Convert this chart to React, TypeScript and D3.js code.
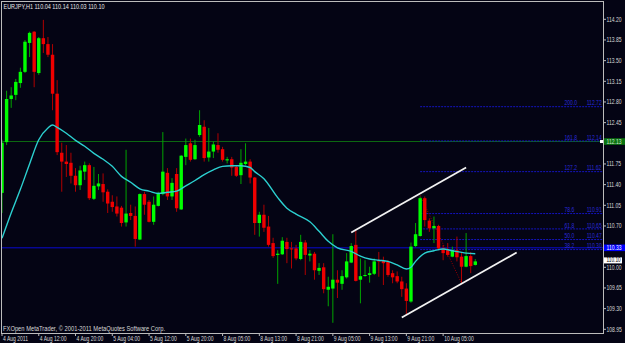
import React from "react";
import * as d3 from "d3";

const W = 625;
const H = 343;

// ---- data (EURJPY H1) ----
const opens = [
  111.26, 112.12, 112.85, 112.92, 113.12, 113.31, 113.80, 113.99, 113.29, 113.88,
  113.78, 113.60, 112.94, 111.94, 111.79, 111.77, 111.55, 111.39, 111.62, 111.73,
  111.16, 111.37, 111.41, 111.28, 111.11, 111.03, 111.01, 110.76, 110.92, 110.87,
  110.47, 111.24, 111.11, 110.77, 111.04, 111.24, 111.60, 111.20, 111.58, 110.98,
  111.87, 112.10, 111.83, 112.24, 112.38, 111.86, 111.96, 112.07, 112.00, 111.81,
  111.83, 111.70, 111.56, 111.75, 111.79, 111.52, 110.75, 110.89, 110.69, 110.41,
  110.21, 110.22, 110.43, 110.32, 110.32, 110.14, 110.42, 110.20, 110.23, 109.94,
  110.00, 109.62, 109.64, 109.79, 109.72, 109.83, 110.08, 110.38, 109.79, 109.86,
  109.87, 109.89, 110.12, 110.11, 110.09, 109.90, 109.85, 109.76, 109.64, 109.42,
  110.36, 110.53, 111.17, 110.79, 110.66, 110.70, 110.32, 110.29, 110.18, 110.29,
  110.18, 110.01, 110.19, 110.04,
];
const highs = [
  112.16, 112.99, 113.05, 113.19, 113.38, 113.85, 113.99, 114.00, 113.90, 114.19,
  113.90, 113.78, 113.17, 112.11, 112.07, 111.94, 111.68, 111.72, 111.79, 111.76,
  111.70, 111.58, 111.59, 111.32, 111.22, 111.20, 111.04, 111.99, 111.06, 111.03,
  111.25, 111.28, 111.14, 111.20, 111.28, 112.29, 111.68, 111.51, 111.68, 111.90,
  112.18, 112.18, 112.16, 112.66, 112.49, 112.36, 112.13, 112.27, 112.04, 111.87,
  111.87, 111.73, 112.00, 112.10, 111.83, 111.53, 110.94, 111.06, 110.87, 110.50,
  110.29, 110.51, 110.50, 110.43, 110.38, 110.55, 110.46, 110.29, 110.26, 110.07,
  110.07, 109.84, 110.56, 109.95, 109.95, 110.24, 110.41, 110.63, 110.15, 110.12,
  110.01, 110.15, 110.26, 110.18, 110.12, 109.95, 109.93, 109.84, 109.73, 110.42,
  110.75, 111.20, 111.20, 110.83, 110.86, 110.72, 110.38, 110.41, 110.35, 110.52,
  110.26, 110.58, 110.26, 110.14,
];
const lows = [
  110.92, 112.07, 112.70, 112.83, 113.04, 113.29, 113.56, 113.05, 113.26, 113.63,
  113.56, 112.66, 111.90, 111.28, 111.53, 111.42, 111.28, 111.31, 111.48, 111.14,
  111.14, 111.31, 111.11, 110.92, 110.94, 110.86, 110.69, 110.69, 110.80, 110.35,
  110.46, 110.89, 110.76, 110.72, 111.03, 111.22, 111.14, 111.14, 110.94, 110.97,
  111.73, 111.79, 111.82, 112.21, 111.79, 111.79, 111.85, 111.94, 111.79, 111.76,
  111.55, 111.53, 111.41, 111.73, 111.42, 110.55, 110.52, 110.60, 110.35, 110.16,
  109.72, 110.21, 110.07, 109.98, 110.12, 110.12, 109.87, 110.10, 109.79, 109.87,
  109.56, 109.34, 109.06, 109.48, 109.62, 109.81, 110.07, 109.76, 109.39, 109.84,
  109.74, 109.87, 109.84, 109.70, 109.84, 109.73, 109.73, 109.50, 109.19, 109.40,
  110.34, 110.52, 110.69, 110.60, 110.41, 110.29, 110.12, 110.18, 110.17, 110.10,
  109.73, 110.00, 109.90, 110.03,
];
const closes = [
  112.11, 112.85, 112.91, 113.14, 113.31, 113.82, 113.97, 113.31, 113.88, 113.78,
  113.60, 112.94, 111.95, 111.79, 111.75, 111.55, 111.39, 111.64, 111.73, 111.17,
  111.38, 111.42, 111.27, 111.08, 111.02, 110.91, 110.75, 110.91, 110.87, 110.48,
  111.24, 111.06, 110.77, 111.06, 111.25, 111.62, 111.20, 111.43, 111.00, 111.89,
  112.07, 111.82, 112.07, 112.41, 111.85, 111.96, 112.08, 111.99, 111.82, 111.83,
  111.69, 111.55, 111.77, 111.79, 111.52, 110.75, 110.89, 110.67, 110.38, 110.19,
  110.23, 110.45, 110.31, 110.31, 110.15, 110.43, 110.21, 110.23, 109.95, 109.99,
  109.63, 109.67, 109.79, 109.74, 109.85, 110.10, 110.36, 109.77, 109.85, 109.87,
  109.90, 110.10, 110.10, 110.07, 109.87, 109.83, 109.76, 109.63, 109.43, 110.35,
  110.56, 111.17, 110.80, 110.66, 110.70, 110.32, 110.24, 110.21, 110.29, 110.17,
  110.01, 110.19, 110.02, 110.10,
];

// moving average (cyan) read at sample bars
const maBars = [0, 2, 4, 6, 8, 10, 11, 12, 14, 16, 18, 20, 22, 24, 26, 28, 30, 32, 34, 36, 38, 40, 42, 44, 46, 48, 50, 52, 54, 55, 57, 60, 62, 64, 67, 69, 71, 73, 76, 78, 80, 82, 84, 86, 88, 89, 90, 92, 94, 96, 98, 101, 103];
const maValues = [110.49, 110.92, 111.32, 111.75, 112.16, 112.36, 112.41, 112.37, 112.27, 112.15, 112.05, 111.93, 111.83, 111.71, 111.54, 111.44, 111.33, 111.29, 111.25, 111.27, 111.29, 111.38, 111.47, 111.57, 111.65, 111.71, 111.72, 111.72, 111.69, 111.62, 111.50, 111.18, 111.00, 110.90, 110.77, 110.61, 110.44, 110.33, 110.27, 110.19, 110.14, 110.12, 110.10, 110.04, 109.97, 110.00, 110.10, 110.24, 110.28, 110.31, 110.28, 110.24, 110.23];

const timeLabels = ["4 Aug 2011", "4 Aug 12:00", "4 Aug 20:00", "5 Aug 04:00", "5 Aug 12:00", "5 Aug 20:00", "8 Aug 05:00", "8 Aug 13:00", "8 Aug 21:00", "9 Aug 05:00", "9 Aug 13:00", "9 Aug 21:00", "10 Aug 05:00"];
const timeLabelBars = [0, 8, 16, 24, 32, 40, 48, 56, 64, 72, 80, 88, 96];

const priceTicks = ["114.20", "113.85", "113.50", "113.15", "112.80", "112.45", "112.10", "111.75", "111.40", "111.05", "110.70", "110.35", "110.00", "109.65", "109.30", "108.95"];

const fibLevels = ["200.0", "161.8", "127.2", "78.6", "61.8", "50.0", "38.2"];
const fibPrices = ["112.72", "112.14", "111.62", "110.91", "110.65", "110.47", "110.30"];
const fibAnchorBars = [91, 100];
const fibAnchorPrices = [111.22, 109.73];

const upperChannelBars = [76, 101];
const upperChannelPrices = [110.59, 111.69];
const lowerChannelBars = [87, 112];
const lowerChannelPrices = [109.15, 110.25];

const greenLinePrice = 112.13;
const blueLinePrice = 110.33;
const lastPrice = 110.1;

const headerText = "EURJPY,H1  110.04 110.14 110.03 110.10";
const copyright = "FXOpen MetaTrader, \u00A9 2001-2011 MetaQuotes Software Corp.";

// ---- layout ----
const L = 2, R = 603, T = 2, B = 333;
const FONT = "'Liberation Sans', Arial, sans-serif";

function NText(props: { x: number; y: number; fill: string; size?: number; sx?: number; children: React.ReactNode }) {
  const { x, y, fill, size = 7, sx = 0.72, children } = props;
  return (
    <text transform={`translate(${x},${y}) scale(${sx},1)`} fill={fill} fontSize={size} fontFamily={FONT}>
      {children}
    </text>
  );
}

export default function App() {
  const x = d3.scaleLinear().domain([0, 103]).range([2, 475.3]);
  const y = d3.scaleLinear().domain([108.95, 114.2]).range([329.3, 19.3]);

  const ma = d3
    .line<number>()
    .x((_, i) => x(maBars[i]))
    .y((d) => y(d))
    .curve(d3.curveMonotoneX)(maValues) as string;

  const bodyW = 3.4;
  const coveredBy = [greenLinePrice, blueLinePrice];
  const visibleTicks = priceTicks.filter(
    (t) => !coveredBy.some((p) => Math.abs(y(+t) - y(p)) < 5)
  );
  const lastY = y(lastPrice) - 1;

  return (
    <svg width={W} height={H} style={{ position: "absolute", left: 0, top: 0, display: "block" }}>
      <defs>
        <clipPath id="plot">
          <rect x={L} y={T} width={R - L} height={B - T} />
        </clipPath>
      </defs>
      <rect x={0} y={0} width={W} height={H} fill="#040414" />

      <g clipPath="url(#plot)">
        {/* horizontal lines */}
        <line x1={L} x2={R} y1={y(greenLinePrice)} y2={y(greenLinePrice)} stroke="#0d6a12" strokeWidth={1} />
        <line x1={L} x2={R} y1={y(blueLinePrice)} y2={y(blueLinePrice)} stroke="#0a0ad0" strokeWidth={1} />

        {/* fibonacci */}
        {fibPrices.map((p, i) => (
          <g key={"f" + i}>
            <line x1={x(fibAnchorBars[0])} x2={R} y1={y(+p)} y2={y(+p)} stroke="#1414c0" strokeWidth={1} strokeDasharray="2,1" />
            <NText x={R - 38.5} y={y(+p) - 1.3} fill="#2a2ad8">{fibLevels[i]}</NText>
            <NText x={R - 16.3} y={y(+p) - 1.3} fill="#2a2ad8">{p}</NText>
          </g>
        ))}
        <line
          x1={x(fibAnchorBars[0])} y1={y(fibAnchorPrices[0])}
          x2={x(fibAnchorBars[1])} y2={y(fibAnchorPrices[1])}
          stroke="#9a0000" strokeWidth={1} strokeDasharray="1,1.5"
        />

        {/* candles */}
        {opens.map((o, i) => {
          const c = closes[i];
          const up = c >= o;
          const cx = x(i);
          const top = y(Math.max(o, c));
          const bot = y(Math.min(o, c));
          return (
            <g key={"c" + i}>
              <line x1={cx} x2={cx} y1={y(highs[i])} y2={y(lows[i])} stroke={up ? "#00a400" : "#b00000"} strokeWidth={1} />
              <rect x={cx - bodyW / 2} y={top} width={bodyW} height={Math.max(1, bot - top)} fill={up ? "#00ff00" : "#f00000"} />
            </g>
          );
        })}

        {/* moving average */}
        <path d={ma} fill="none" stroke="#2cd0d0" strokeWidth={1.4} />

        {/* channel */}
        <line x1={x(upperChannelBars[0])} y1={y(upperChannelPrices[0])} x2={x(upperChannelBars[1])} y2={y(upperChannelPrices[1])} stroke="#f2f2f2" strokeWidth={1.8} />
        <line x1={x(lowerChannelBars[0])} y1={y(lowerChannelPrices[0])} x2={x(lowerChannelBars[1])} y2={y(lowerChannelPrices[1])} stroke="#f2f2f2" strokeWidth={1.8} />

        <rect x={R - 3} y={y(greenLinePrice) - 1.5} width={3} height={3} fill="#ffffff" />
      </g>

      {/* frame */}
      <rect x={L - 0.5} y={T - 0.5} width={R - L + 1} height={B - T + 1} fill="none" stroke="#bcbcbc" strokeWidth={1} />

      {/* header / footer */}
      <text x={3.5} y={9} fill="#e8e8e8" fontSize={7} fontFamily={FONT} textLength={101} lengthAdjust="spacingAndGlyphs">{headerText}</text>
      <text x={3} y={331} fill="#d8d8d8" fontSize={7} fontFamily={FONT} textLength={162} lengthAdjust="spacingAndGlyphs">{copyright}</text>

      {/* price axis */}
      {priceTicks.map((t) => (
        <line key={"pt" + t} x1={R} x2={R + 3} y1={y(+t)} y2={y(+t)} stroke="#bcbcbc" />
      ))}
      {visibleTicks.map((t) => (
        <NText key={"p" + t} x={R + 3.5} y={y(+t) + 2.4} fill="#d8d8d8">{t}</NText>
      ))}
      {/* price labels of lines */}
      <rect x={R + 1} y={y(greenLinePrice) - 3.3} width={21} height={6.6} fill="#0b7410" />
      <NText x={R + 3.5} y={y(greenLinePrice) + 2.4} fill="#d0e8d0">{greenLinePrice.toFixed(2)}</NText>
      <rect x={R + 1} y={y(blueLinePrice) - 3.3} width={21} height={6.6} fill="#0000ff" />
      <NText x={R + 3.5} y={y(blueLinePrice) + 2.4} fill="#ffffff">{blueLinePrice.toFixed(2)}</NText>
      <rect x={R + 1} y={lastY - 3} width={18} height={6} fill="#ffffff" />
      <NText x={R + 3.5} y={lastY + 2.1} fill="#000000" size={6.6}>{lastPrice.toFixed(2)}</NText>

      {/* time axis */}
      {timeLabels.map((t, i) => (
        <g key={"t" + i}>
          <line x1={x(timeLabelBars[i])} x2={x(timeLabelBars[i])} y1={B} y2={B + 3} stroke="#bcbcbc" />
          <NText x={x(timeLabelBars[i]) + 1} y={341} fill="#d8d8d8">{t}</NText>
        </g>
      ))}
    </svg>
  );
}
